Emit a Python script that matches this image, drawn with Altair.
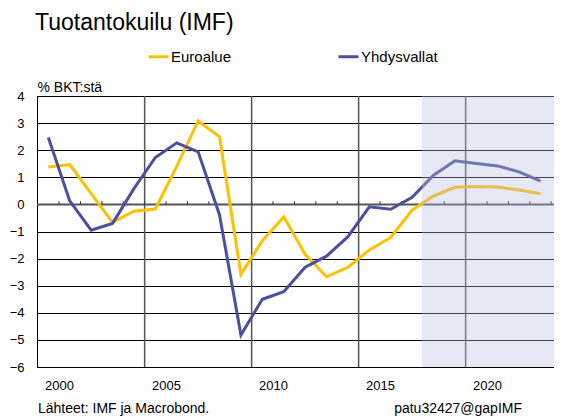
import altair as alt
import pandas as pd

FONT = "Liberation Sans"

years = list(range(2000, 2024))
euroalue = [1.38, 1.47, 0.40, -0.66, -0.25, -0.17, 1.40, 3.08, 2.49, -2.58,
            -1.34, -0.46, -1.84, -2.67, -2.32, -1.68, -1.22, -0.21, 0.31, 0.63,
            0.66, 0.64, 0.53, 0.39]
yhdysvallat = [2.47, 0.13, -0.95, -0.70, 0.58, 1.73, 2.27, 1.94, -0.39, -4.82,
               -3.50, -3.22, -2.32, -1.91, -1.19, -0.09, -0.18, 0.26, 1.08, 1.61,
               1.51, 1.42, 1.20, 0.86]
series_names = ["Euroalue", "Yhdysvallat"]
series_colors = ["#FFC000", "#4B4F9F"]
y_ticks = list(range(-6, 5))
x_label_years = [2000, 2005, 2010, 2015, 2020]
v_grid_years = [2004.5, 2009.5, 2014.5, 2019.5]
forecast_start = 2017.45
x_min, x_max = 1999.47, 2023.63

title_text = "Tuotantokuilu (IMF)"
unit_text = "% BKT:stä"
source_text = "Lähteet: IMF ja Macrobond."
code_text = "patu32427@gapIMF"

df = pd.DataFrame({
    "year": years + years,
    "value": euroalue + yhdysvallat,
    "series": [series_names[0]] * len(years) + [series_names[1]] * len(years),
})

xscale = alt.Scale(domain=[x_min, x_max], nice=False, zero=False)
yscale = alt.Scale(domain=[-6, 4], nice=False, zero=False)

X = alt.X("year:Q", scale=xscale,
          axis=alt.Axis(values=[y + 0.5 for y in x_label_years],
                        labelExpr="floor(datum.value)", grid=False,
                        ticks=False, domain=False, title=None,
                        labelPadding=12, labelFontSize=13))
Y = alt.Y("value:Q", scale=yscale,
          axis=alt.Axis(values=y_ticks, tickCount=11, grid=True,
                        gridColor="#000000", gridWidth=1, gridOpacity=1,
                        ticks=False, domain=False, title=unit_text,
                        titleAngle=0, titleAlign="left",
                        titleBaseline="alphabetic", titleX=0, titleY=-5,
                        titleFontSize=14, titleFontWeight="normal",
                        labelPadding=13, labelFontSize=13,
                        labelOverlap=False))

vgrid = alt.Chart(pd.DataFrame({"year": v_grid_years})).mark_rule(
    color="#555555", strokeWidth=1.5).encode(x=X)

zero = alt.Chart(pd.DataFrame({"value": [0]})).mark_rule(
    color="#555555", strokeWidth=2).encode(y=Y)

ticks = alt.Chart(pd.DataFrame({"year": [y + 0.5 for y in years],
                                "value": [0] * len(years),
                                "value2": [0.12] * len(years)})).mark_rule(
    color="#333333", strokeWidth=1).encode(x=X, y=Y, y2="value2:Q")

lines = alt.Chart(df).mark_line(strokeWidth=3, strokeJoin="miter").encode(
    x=X, y=Y,
    color=alt.Color("series:N",
                    scale=alt.Scale(domain=series_names, range=series_colors),
                    legend=alt.Legend(orient="none", legendX=110, legendY=-51,
                                      direction="horizontal", title=None,
                                      symbolType="stroke", symbolStrokeWidth=3,
                                      symbolSize=400, labelFontSize=15,
                                      labelFont=FONT, labelColor="black",
                                      labelOffset=1, columnPadding=100)),
)

shade = alt.Chart(pd.DataFrame({"year": [forecast_start], "end": [x_max]})).mark_rect(
    color="#B8BDDD", opacity=0.35).encode(x=X, x2="end:Q")

title = alt.Chart(pd.DataFrame({"t": [title_text]})).mark_text(
    align="left", baseline="alphabetic", fontSize=23, font=FONT, color="black").encode(
    x=alt.value(-2), y=alt.value(-66), text="t:N")

source = alt.Chart(pd.DataFrame({"t": [source_text]})).mark_text(
    align="left", baseline="alphabetic", fontSize=14, font=FONT, color="black").encode(
    x=alt.value(1), y=alt.value(317), text="t:N")

code = alt.Chart(pd.DataFrame({"t": [code_text]})).mark_text(
    align="right", baseline="alphabetic", fontSize=14, font=FONT, color="black").encode(
    x=alt.value(485), y=alt.value(317), text="t:N")

chart = alt.layer(vgrid, zero, ticks, lines, shade, title, source, code).properties(
    width=517, height=271,
    autosize=alt.AutoSizeParams(type="none"),
    padding={"left": 29, "top": 88, "right": 0, "bottom": 53},
).configure_view(stroke="black", strokeWidth=1).configure_axis(
    labelFont=FONT, titleFont=FONT, labelColor="black", titleColor="black")

chart.save("out.html", embed_options={"renderer": "svg", "actions": False})
